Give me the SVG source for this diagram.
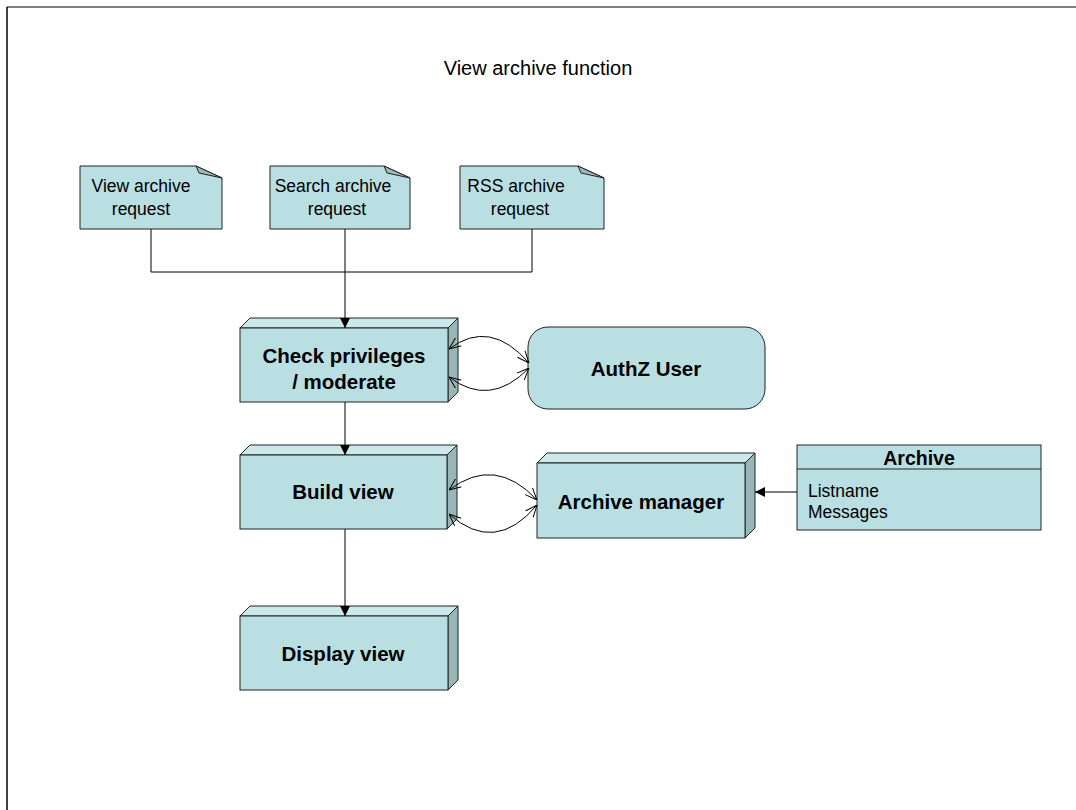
<svg xmlns="http://www.w3.org/2000/svg" width="1076" height="810" viewBox="0 0 1076 810">
<style>
.face{fill:#B9DFE2;stroke:#222;stroke-width:1}
.top{fill:#CDE8EA;stroke:#222;stroke-width:1}
.side{fill:#98B6B8;stroke:#222;stroke-width:1}
.fold{fill:#9DB9BB;stroke:#222;stroke-width:1}
.ln{fill:none;stroke:#000;stroke-width:1}
.t{font-family:"Liberation Sans",Arial,sans-serif;fill:#000}
.n{font-size:17.5px}
.b{font-size:20.5px;font-weight:bold}
</style>
<defs>
<marker id="fa" viewBox="0 0 10 10" refX="10" refY="5" markerWidth="10" markerHeight="10" markerUnits="userSpaceOnUse" orient="auto">
<path d="M0,0 L10,5 L0,10 z" fill="#000"/>
</marker>
<marker id="oa" viewBox="0 0 12 12" refX="12" refY="6" markerWidth="12" markerHeight="12" markerUnits="userSpaceOnUse" orient="auto-start-reverse">
<path d="M0,1 L12,6 L0,11" fill="none" stroke="#000" stroke-width="1"/>
</marker>
</defs>
<rect width="1076" height="810" fill="#fff"/>
<line x1="7" y1="7" x2="1076" y2="7" stroke="#555" stroke-width="1.5"/>
<line x1="7" y1="7" x2="7" y2="810" stroke="#000" stroke-width="1.5"/>
<text class="t" x="538" y="75" font-size="20" text-anchor="middle">View archive function</text>

<g id="note-view">
<polygon class="face" points="80,166 196,166 222,178 222,229 80,229"/>
<polygon class="fold" points="196,166 222,178 199,173"/>
<text class="t n" x="141" y="192" text-anchor="middle">View archive</text>
<text class="t n" x="141" y="215" text-anchor="middle">request</text>
</g>
<g id="note-search">
<polygon class="face" points="270,166 384,166 410,178 410,229 270,229"/>
<polygon class="fold" points="384,166 410,178 387,173"/>
<text class="t n" x="333" y="192" text-anchor="middle">Search archive</text>
<text class="t n" x="337" y="215" text-anchor="middle">request</text>
</g>
<g id="note-rss">
<polygon class="face" points="460,166 578,166 604,178 604,229 460,229"/>
<polygon class="fold" points="578,166 604,178 581,173"/>
<text class="t n" x="516" y="192" text-anchor="middle">RSS archive</text>
<text class="t n" x="520" y="215" text-anchor="middle">request</text>
</g>

<g id="check">
<polygon class="top" points="240,328 250,318 458,318 448,328"/>
<polygon class="side" points="448,328 458,318 458,392 448,402"/>
<rect class="face" x="240" y="328" width="208" height="74"/>
<text class="t b" x="344" y="363" text-anchor="middle">Check privileges</text>
<text class="t b" x="344" y="389" text-anchor="middle">/ moderate</text>
</g>
<g id="authz">
<rect class="face" x="528" y="327" width="237" height="82" rx="20" ry="20"/>
<text class="t b" x="646" y="376" text-anchor="middle">AuthZ User</text>
</g>
<g id="build">
<polygon class="top" points="240,455 250,445 457,445 447,455"/>
<polygon class="side" points="447,455 457,445 457,519 447,529"/>
<rect class="face" x="240" y="455" width="207" height="74"/>
<text class="t b" x="343" y="499" text-anchor="middle">Build view</text>
</g>
<g id="manager">
<polygon class="top" points="537,463 547,453 755,453 745,463"/>
<polygon class="side" points="745,463 755,453 755,528 745,538"/>
<rect class="face" x="537" y="463" width="208" height="75"/>
<text class="t b" x="641" y="509" text-anchor="middle">Archive manager</text>
</g>
<g id="archive">
<rect class="face" x="797" y="445" width="244" height="85"/>
<line x1="797" y1="469" x2="1041" y2="469" stroke="#222" stroke-width="1"/>
<text class="t" x="919" y="465" font-size="19.5" font-weight="bold" text-anchor="middle">Archive</text>
<text class="t n" x="808" y="497">Listname</text>
<text class="t n" x="808" y="518">Messages</text>
</g>
<g id="display">
<polygon class="top" points="240,616 250,606 458,606 448,616"/>
<polygon class="side" points="448,616 458,606 458,680 448,690"/>
<rect class="face" x="240" y="616" width="208" height="74"/>
<text class="t b" x="343" y="661" text-anchor="middle">Display view</text>
</g>

<g id="connectors">
<polyline class="ln" points="151,229 151,272 532,272 532,229"/>
<line class="ln" x1="345" y1="229" x2="345" y2="272"/>
<line class="ln" x1="345" y1="272" x2="345" y2="328" marker-end="url(#fa)"/>
<line class="ln" x1="345" y1="402" x2="345" y2="455" marker-end="url(#fa)"/>
<line class="ln" x1="345" y1="529" x2="345" y2="616" marker-end="url(#fa)"/>
<line class="ln" x1="797" y1="492" x2="755" y2="492" marker-end="url(#fa)"/>
<path class="ln" d="M449,349 Q490,318 529,363" marker-start="url(#oa)" marker-end="url(#oa)"/>
<path class="ln" d="M449,377 Q490,408 529,368" marker-start="url(#oa)" marker-end="url(#oa)"/>
<path class="ln" d="M449,490 Q495,455 537,500" marker-start="url(#oa)" marker-end="url(#oa)"/>
<path class="ln" d="M449,514 Q495,555 537,505" marker-start="url(#oa)" marker-end="url(#oa)"/>
</g>
</svg>
